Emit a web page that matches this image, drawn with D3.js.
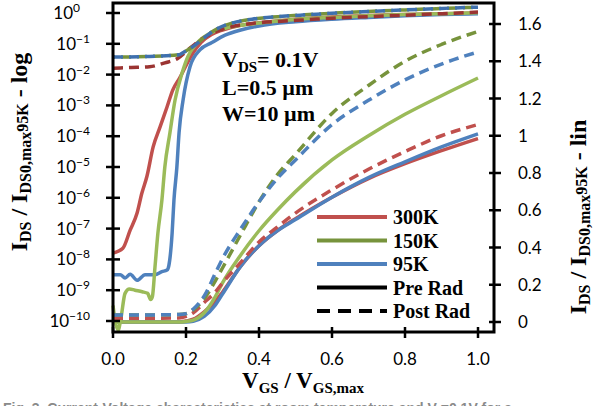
<!DOCTYPE html>
<html><head><meta charset="utf-8">
<script src="https://cdn.jsdelivr.net/npm/d3@7"></script>
<style>body{margin:0;background:#fff}svg{display:block}</style>
</head><body>
<svg id="c" width="594" height="406"></svg>
<script>
// ---------- data ----------
const xTicks = [0, 0.2, 0.4, 0.6, 0.8, 1.0];
const logTickExps = [0, -1, -2, -3, -4, -5, -6, -7, -8, -9, -10];
const linTicks = [0, 0.2, 0.4, 0.6, 0.8, 1, 1.2, 1.4, 1.6];
const tempLabels = ["300K", "150K", "95K"];
const radLabels = ["Pre Rad", "Post Rad"];

// linear-scale curves (right axis)
const vgsLin = [0, 0.1, 0.18, 0.2, 0.22, 0.25, 0.28, 0.3, 0.35, 0.4, 0.45, 0.5, 0.6, 0.7, 0.8, 0.9, 1.0];
const linPre300  = [0, 0, 0, 0.005, 0.015, 0.055, 0.11, 0.16, 0.30, 0.41, 0.49, 0.555, 0.67, 0.77, 0.85, 0.92, 0.985];
const linPre150  = [0, 0, 0, 0.003, 0.01, 0.05, 0.135, 0.21, 0.36, 0.49, 0.60, 0.70, 0.87, 1.00, 1.115, 1.215, 1.31];
const linPre95   = [0, 0, 0, 0, 0.004, 0.03, 0.09, 0.15, 0.30, 0.41, 0.49, 0.55, 0.67, 0.775, 0.86, 0.94, 1.01];
const linPost300 = [0.02, 0.02, 0.022, 0.03, 0.05, 0.105, 0.16, 0.21, 0.32, 0.43, 0.51, 0.585, 0.71, 0.82, 0.915, 1.0, 1.06];
const linPost150 = [0.038, 0.038, 0.04, 0.045, 0.065, 0.125, 0.22, 0.29, 0.47, 0.645, 0.79, 0.90, 1.12, 1.27, 1.40, 1.49, 1.56];
const linPost95  = [0.038, 0.038, 0.04, 0.045, 0.07, 0.14, 0.26, 0.34, 0.50, 0.645, 0.77, 0.87, 1.06, 1.19, 1.30, 1.385, 1.45];

// log-scale curves (left axis)
const vgsLogPre300 = [0, 0.027, 0.047, 0.066, 0.079, 0.093, 0.110, 0.129, 0.148, 0.164, 0.184, 0.203, 0.219, 0.241, 0.27, 0.3, 0.35, 0.4, 0.5, 0.6, 0.7, 0.8, 0.9, 1.0];
const logPre300 = [1.6e-8, 2.3e-8, 8.9e-8, 3.2e-7, 1.4e-6, 5.0e-6, 4.5e-5, 2.0e-4, 8.9e-4, 3.2e-3, 8.3e-3, 2.3e-2, 5.0e-2, 0.11, 0.20, 0.28, 0.40, 0.48, 0.63, 0.74, 0.83, 0.89, 0.95, 1.0];
const vgsLogPre150 = [0, 0.006, 0.014, 0.022, 0.033, 0.045, 0.06, 0.08, 0.095, 0.103, 0.108, 0.115, 0.123, 0.134, 0.142, 0.156, 0.170, 0.189, 0.205, 0.230, 0.266, 0.3, 0.35, 0.4, 0.5, 0.6, 0.7, 0.8, 0.9, 1.0];
const logPre150 = [3.2e-10, 1.0e-10, 5.0e-11, 1.3e-10, 7.9e-10, 1.1e-9, 1.0e-9, 8.9e-10, 7.9e-10, 5.0e-10, 6.3e-10, 5.6e-9, 7.1e-8, 8.5e-7, 1.0e-5, 1.3e-4, 1.5e-3, 1.1e-2, 3.8e-2, 0.105, 0.22, 0.30, 0.40, 0.47, 0.62, 0.72, 0.81, 0.89, 0.95, 1.02];
const vgsLogPre95 = [0, 0.02, 0.033, 0.047, 0.066, 0.088, 0.115, 0.134, 0.148, 0.153, 0.162, 0.167, 0.175, 0.181, 0.192, 0.211, 0.238, 0.271, 0.307, 0.35, 0.4, 0.5, 0.6, 0.7, 0.8, 0.9, 1.0];
const logPre95 = [3.2e-9, 3.2e-9, 2.5e-9, 3.3e-9, 2.1e-9, 3.2e-9, 3.2e-9, 4.0e-9, 4.5e-9, 6.3e-9, 7.2e-8, 8.5e-7, 1.0e-5, 1.3e-4, 1.5e-3, 1.8e-2, 6.3e-2, 0.11, 0.19, 0.28, 0.38, 0.52, 0.63, 0.72, 0.81, 0.89, 0.95];
const vgsLogPost300 = [0, 0.05, 0.1, 0.142, 0.178, 0.205, 0.233, 0.271, 0.326, 0.389, 0.47, 0.526, 0.6, 0.7, 0.8, 0.9, 1.0];
const logPost300 = [0.016, 0.017, 0.018, 0.024, 0.034, 0.063, 0.117, 0.22, 0.36, 0.47, 0.55, 0.60, 0.68, 0.76, 0.85, 0.95, 1.07];
const vgsLogPost = [0, 0.1, 0.18, 0.19, 0.225, 0.26, 0.288, 0.326, 0.381, 0.452, 0.526, 0.6, 0.7, 0.8, 0.9, 1.0];
const logPost150 = [0.037, 0.039, 0.044, 0.050, 0.092, 0.20, 0.32, 0.47, 0.63, 0.76, 0.87, 0.98, 1.12, 1.26, 1.40, 1.54];
const logPost95  = [0.037, 0.039, 0.044, 0.050, 0.091, 0.195, 0.32, 0.47, 0.63, 0.76, 0.87, 0.98, 1.12, 1.26, 1.41, 1.55];

// ---------- layout ----------
const svg = d3.select("#c");
const L = 113, R = 494, T = 3, B = 332;
const x = d3.scaleLinear().domain([0, 1]).range([113, 478]);
const yLog = d3.scaleLog().domain([1e-10, 1]).range([321, 13]);
const yLin = d3.scaleLinear().domain([0, 1.6]).range([322, 24]);

const C = {red:"#c0504d", redD:"#9b3432", green:"#9bbb59", greenD:"#77933c", blue:"#4f81bd", blueD:"#3f70ae"};

const curves = [
  {xs: vgsLin, ys: linPre300, s: yLin, c: C.red, dash: null},
  {xs: vgsLin, ys: linPre95, s: yLin, c: C.blue, dash: null},
  {xs: vgsLin, ys: linPre150, s: yLin, c: C.green, dash: null},
  {xs: vgsLogPre300, ys: logPre300, s: yLog, c: C.red, dash: null},
  {xs: vgsLogPre95, ys: logPre95, s: yLog, c: C.blue, dash: null},
  {xs: vgsLogPre150, ys: logPre150, s: yLog, c: C.green, dash: null},
  {xs: vgsLin, ys: linPost300, s: yLin, c: C.red, dash: "10,6"},
  {xs: vgsLin, ys: linPost150, s: yLin, c: C.greenD, dash: "10,6"},
  {xs: vgsLin, ys: linPost95, s: yLin, c: C.blue, dash: "10,6"},
  {xs: vgsLogPost300, ys: logPost300, s: yLog, c: C.redD, dash: "10,6"},
  {xs: vgsLogPost, ys: logPost150, s: yLog, c: C.greenD, dash: "10,6", off: 8},
  {xs: vgsLogPost, ys: logPost95, s: yLog, c: C.blueD, dash: "10,6"},
];

const gC = svg.append("g");
curves.forEach(cv => {
  const line = d3.line().x((d, i) => x(cv.xs[i])).y(d => cv.s(d)).curve(d3.curveMonotoneX);
  gC.append("path").attr("d", line(cv.ys)).attr("fill", "none")
    .attr("stroke", cv.c).attr("stroke-width", 3.5)
    .attr("stroke-dasharray", cv.dash).attr("stroke-dashoffset", cv.off || 0);
});

// frame
svg.append("rect").attr("x", L).attr("y", T).attr("width", R - L).attr("height", B - T)
  .attr("fill", "none").attr("stroke", "#000").attr("stroke-width", 3);

// ticks
const tk = svg.append("g").attr("stroke", "#000").attr("stroke-width", 2.5);
xTicks.forEach(v => tk.append("line").attr("x1", x(v)).attr("x2", x(v)).attr("y1", 327).attr("y2", 338));
logTickExps.forEach(e => tk.append("line").attr("x1", 106).attr("x2", 120).attr("y1", yLog(Math.pow(10, e))).attr("y2", yLog(Math.pow(10, e))));
linTicks.forEach(v => tk.append("line").attr("x1", 489).attr("x2", 501).attr("y1", yLin(v)).attr("y2", yLin(v)));

// tick labels
const tf = "Lato, 'Open Sans', sans-serif";
xTicks.forEach(v => svg.append("text").attr("x", x(v)).attr("y", 365).attr("text-anchor", "middle")
  .attr("font-family", tf).attr("font-size", 17).text(d3.format(".1f")(v)));
linTicks.forEach(v => svg.append("text").attr("x", 518).attr("y", yLin(v) + 6)
  .attr("font-family", tf).attr("font-size", 17).text(String(v)));
logTickExps.forEach(e => {
  const t = svg.append("text").attr("x", e === 0 ? 80 : 90).attr("y", yLog(Math.pow(10, e)) + 6)
    .attr("text-anchor", "end").attr("font-family", tf).attr("font-size", 17);
  t.append("tspan").text("10");
  t.append("tspan").attr("dy", -7).attr("font-size", 12).text(e === 0 ? "0" : "\u2212" + Math.abs(e));
});

// axis titles
const sf = "'Liberation Serif', 'Times New Roman', serif";
const xt = svg.append("text").attr("x", 303).attr("y", 388).attr("text-anchor", "middle")
  .attr("font-family", sf).attr("font-weight", "bold").attr("font-size", 23);
xt.append("tspan").text("V");
xt.append("tspan").attr("font-size", 15).attr("dy", 5).text("GS");
xt.append("tspan").attr("dy", -5).text(" / V");
xt.append("tspan").attr("font-size", 15).attr("dy", 5).text("GS,max");

function yTitle(cx, cy, suffix) {
  const t = svg.append("text").attr("transform", `translate(${cx},${cy}) rotate(-90)`)
    .attr("text-anchor", "middle").attr("font-family", sf).attr("font-weight", "bold").attr("font-size", 24);
  t.append("tspan").text("I");
  t.append("tspan").attr("font-size", 16).attr("dy", 4).text("DS");
  t.append("tspan").attr("dy", -4).text(" / I");
  t.append("tspan").attr("font-size", 16).attr("dy", 4).text("DS0,max");
  t.append("tspan").attr("font-size", 16).attr("dy", -3).text("95K");
  t.append("tspan").attr("dy", -1).text(suffix);
}
yTitle(27, 152, " - log");
yTitle(586, 217, " - lin");

// annotation
const ann = svg.append("g").attr("font-family", sf).attr("font-weight", "bold").attr("font-size", 22);
const a1 = ann.append("text").attr("x", 222).attr("y", 67);
a1.append("tspan").text("V");
a1.append("tspan").attr("font-size", 15).attr("dy", 5).text("DS");
a1.append("tspan").attr("dy", -5).text("= 0.1V");
ann.append("text").attr("x", 222).attr("y", 95).text("L=0.5 \u00b5m");
ann.append("text").attr("x", 222).attr("y", 121).text("W=10 \u00b5m");

// legend
const legItems = [
  {t: tempLabels[0], c: C.red, dash: null},
  {t: tempLabels[1], c: C.greenD, dash: null},
  {t: tempLabels[2], c: C.blue, dash: null},
  {t: radLabels[0], c: "#000", dash: null},
  {t: radLabels[1], c: "#000", dash: "13,8"},
];
legItems.forEach((d, i) => {
  const yy = 217 + i * 23.5;
  svg.append("line").attr("x1", 317).attr("x2", 387).attr("y1", yy).attr("y2", yy)
    .attr("stroke", d.c).attr("stroke-width", 4).attr("stroke-dasharray", d.dash);
  svg.append("text").attr("x", 393).attr("y", yy + 7).attr("font-family", sf)
    .attr("font-weight", "bold").attr("font-size", 20).text(d.t);
});

// caption (cut off at the bottom edge)
svg.append("text").attr("x", 3).attr("y", 413).attr("font-family", "'Liberation Sans', Arial, sans-serif")
  .attr("font-size", 14).attr("font-weight", "bold").attr("fill", "#8a8a8a")
  .text("Fig. 3.  Current-Voltage characteristics at room temperature and V  =0.1V for a");
</script>
</body></html>
